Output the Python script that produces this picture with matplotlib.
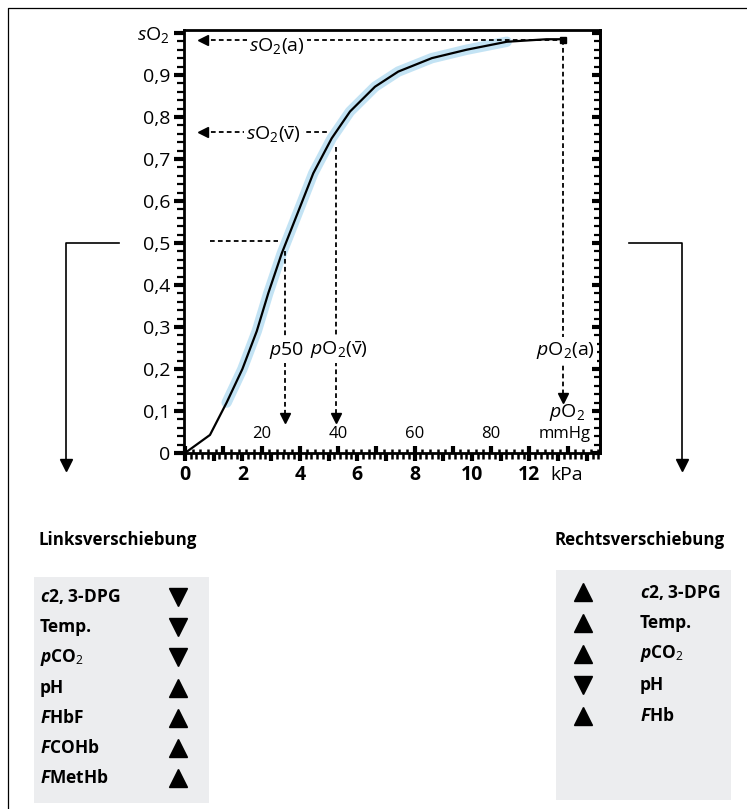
import matplotlib
matplotlib.use('Agg')
import matplotlib.pyplot as plt
from matplotlib.lines import Line2D
from matplotlib.ticker import MultipleLocator, FuncFormatter

plt.rcParams['font.family'] = ['Open Sans', 'DejaVu Sans']
plt.rcParams['mathtext.fontset'] = 'custom'
plt.rcParams['mathtext.rm'] = 'Open Sans'
plt.rcParams['mathtext.it'] = 'Open Sans:italic'
plt.rcParams['mathtext.bf'] = 'Open Sans:bold'
plt.rcParams['mathtext.bfit'] = 'Open Sans:italic:bold'

# Sauerstoffbindungskurve (pO2 in kPa, sO2 als Anteil)
po2_kpa = [0, 0.87, 1.45, 2.0, 2.5, 2.9, 3.37, 4.01, 4.47, 5.11, 5.75, 6.62, 7.43, 8.60, 9.81, 11.21, 12.60, 13.18]
so2 = [0, 0.043, 0.12, 0.20, 0.29, 0.38, 0.475, 0.586, 0.666, 0.749, 0.813, 0.872, 0.908, 0.94, 0.96, 0.979, 0.985, 0.985]

# markierte Punkte
p50, s50 = 3.48, 0.505
p_v, s_v = 5.26, 0.765
p_a, s_a = 13.18, 0.983

KPA_TO_MMHG = 7.50062
mmhg_labels = [20, 40, 60, 80]
kpa_labels = [0, 2, 4, 6, 8, 10, 12]
so2_labels = ['0', '0,1', '0,2', '0,3', '0,4', '0,5', '0,6', '0,7', '0,8', '0,9', '$s$O$_2$']

links_labels = ['$\\mathbfit{c}$2, 3-DPG', 'Temp.', '$\\mathbfit{p}$CO$_2$', 'pH',
                '$\\mathbfit{F}$HbF', '$\\mathbfit{F}$COHb', '$\\mathbfit{F}$MetHb']
links_dir = ['v', 'v', 'v', '^', '^', '^', '^']
rechts_labels = ['$\\mathbfit{c}$2, 3-DPG', 'Temp.', '$\\mathbfit{p}$CO$_2$', 'pH', '$\\mathbfit{F}$Hb']
rechts_dir = ['^', '^', '^', 'v', '^']

W, H = 747, 809
fig = plt.figure(figsize=(W / 100, H / 100), dpi=100)


def fx(x):
    return x / W


def fy(y):
    return 1 - y / H


ax = fig.add_axes([fx(184), fy(453), (600 - 184) / W, (453 - 30) / H])
ax.set_xlim(-0.035, 14.46)
ax.set_ylim(0, 1.007)

# blaues Band + Kurve
ax.plot(po2_kpa[2:16], so2[2:16], color='#c3e3f4', lw=7.5, solid_capstyle='round', zorder=1)
ax.plot(po2_kpa, so2, color='black', lw=1.6, zorder=3)

dash = dict(color='black', lw=1.3, ls=(0, (2.6, 1.8)), zorder=2)
arrow_x = 0.62
# sO2(a)
ax.plot([arrow_x, p_a], [s_a, s_a], **dash)
ax.plot([arrow_x], [s_a], marker='<', color='black', ms=7, zorder=4)
ax.plot([p_a, p_a], [s_a, 0.135], **dash)
ax.plot([p_a], [0.131], marker='v', color='black', ms=7, zorder=4)
ax.plot([p_a], [s_a], marker='s', color='black', ms=5, zorder=4)
# sO2(v)
ax.plot([arrow_x, 5.05], [s_v, s_v], **dash)
ax.plot([arrow_x], [s_v], marker='<', color='black', ms=7, zorder=4)
ax.plot([p_v, p_v], [0.729, 0.09], **dash)
ax.plot([p_v], [0.083], marker='v', color='black', ms=7, zorder=4)
# p50
ax.plot([0.87, 3.24], [s50, s50], **dash)
ax.plot([p50, p50], [0.482, 0.09], **dash)
ax.plot([p50], [0.083], marker='v', color='black', ms=7, zorder=4)

box = dict(facecolor='white', edgecolor='none', pad=1.5)
ax.text(3.2, 0.97, '$s$O$_2$(a)', fontsize=14, ha='center', va='center', bbox=box, zorder=5)
ax.text(3.07, 0.758, '$s$O$_2$($\\bar{\\mathrm{v}}$)', fontsize=14, ha='center', va='center', bbox=box, zorder=5)
ax.text(3.54, 0.245, '$p$50', fontsize=14, ha='center', va='center', bbox=box, zorder=5)
ax.text(5.37, 0.245, '$p$O$_2$($\\bar{\\mathrm{v}}$)', fontsize=14, ha='center', va='center', bbox=box, zorder=5)
ax.text(13.24, 0.245, '$p$O$_2$(a)', fontsize=14, ha='center', va='center', bbox=box, zorder=5)
ax.text(13.32, 0.097, '$p$O$_2$', fontsize=14, ha='center', va='center', zorder=5)
ax.text(13.24, 0.045, 'mmHg', fontsize=12, ha='center', va='center', zorder=5)
ax.text(13.3, -0.052, 'kPa', fontsize=14, ha='center', va='center',
        transform=ax.get_xaxis_transform(), clip_on=False)

# Achsen
for s in ax.spines.values():
    s.set_linewidth(2)

ax.yaxis.set_major_locator(MultipleLocator(0.1))
ax.yaxis.set_minor_locator(MultipleLocator(0.02))
ax.yaxis.set_major_formatter(FuncFormatter(lambda v, p: so2_labels[int(round(v * 10))] if 0 <= round(v * 10) <= 10 else ''))
ax.tick_params(axis='y', which='major', direction='out', length=7, width=3, labelsize=14, pad=3)
ax.tick_params(axis='y', which='minor', direction='out', length=5, width=1.6)

ax.xaxis.set_major_locator(MultipleLocator(1))
ax.xaxis.set_minor_locator(MultipleLocator(0.2))
ax.xaxis.set_major_formatter(FuncFormatter(lambda v, p: str(int(round(v))) if int(round(v)) in kpa_labels else ''))
ax.tick_params(axis='x', which='major', direction='out', length=6, width=3, labelsize=14, pad=3)
ax.tick_params(axis='x', which='minor', direction='out', length=4, width=1.8)
for lbl in ax.get_xticklabels():
    lbl.set_fontweight('bold')

# rechte Achse: Striche nach innen
ay = ax.secondary_yaxis('right')
ay.yaxis.set_major_locator(MultipleLocator(0.1))
ay.yaxis.set_minor_locator(MultipleLocator(0.02))
ay.tick_params(axis='y', which='major', direction='in', length=6, width=3, labelright=False)
ay.tick_params(axis='y', which='minor', direction='in', length=4, width=1.6)
ay.spines['right'].set_linewidth(2)

# mmHg-Skala über der x-Achse
am = ax.secondary_xaxis(0, functions=(lambda k: k * KPA_TO_MMHG, lambda m: m / KPA_TO_MMHG))
am.set_alignment('top')
am.xaxis.set_major_locator(MultipleLocator(10))
am.xaxis.set_minor_locator(MultipleLocator(2))
am.xaxis.set_major_formatter(FuncFormatter(lambda v, p: str(int(round(v))) if int(round(v)) in mmhg_labels else ''))
am.tick_params(axis='x', which='major', direction='out', length=5, width=3, labelsize=12, pad=3)
am.tick_params(axis='x', which='minor', direction='out', length=3, width=1.8)
ax.set_zorder(2)


# Kästen
def side_box(rect, rows_top, row_h, labels, dirs, tri_x, txt_x):
    b = fig.add_axes(rect)
    b.set_facecolor('#ecedef')
    for s in b.spines.values():
        s.set_visible(False)
    b.set_xticks([])
    b.set_yticks([])
    top_px = H * (1 - rect[1] - rect[3])
    bot_px = H * (1 - rect[1])
    b.set_ylim((bot_px - rows_top) / row_h, (top_px - rows_top) / row_h)
    b.set_xlim(0, 1)
    for i, (lab, d) in enumerate(zip(labels, dirs)):
        b.text(txt_x, i, lab, fontsize=12.5, fontweight='bold', ha='left', va='center')
        b.plot([tri_x], [i], marker=d, color='black', ms=13, ls='none')
    return b


side_box([fx(34), fy(803), 175 / W, 226 / H], 597, 30.2, links_labels, links_dir, 0.823, 0.034)
side_box([fx(556), fy(800), 175 / W, 230 / H], 592, 31, rechts_labels, rechts_dir, 0.154, 0.48)

fig.text(fx(38), fy(540), 'Linksverschiebung', fontsize=12.2, fontweight='bold', ha='left', va='center')
fig.text(fx(725), fy(540), 'Rechtsverschiebung', fontsize=12.2, fontweight='bold', ha='right', va='center')

# Klammern mit Pfeilen
for xs in ([119, 66, 66], [629, 682, 682]):
    fig.add_artist(Line2D([fx(v) for v in xs], [fy(243), fy(243), fy(462)],
                          transform=fig.transFigure, color='black', lw=1.2))
    fig.add_artist(Line2D([fx(xs[2])], [fy(465)], marker='v', ms=8, color='black',
                          transform=fig.transFigure))

# Rahmen oben und links
fig.add_artist(Line2D([fx(8), fx(8), fx(W)], [fy(H), fy(8), fy(8)],
                      transform=fig.transFigure, color='black', lw=0.9))

fig.savefig('out.png', dpi=100)
